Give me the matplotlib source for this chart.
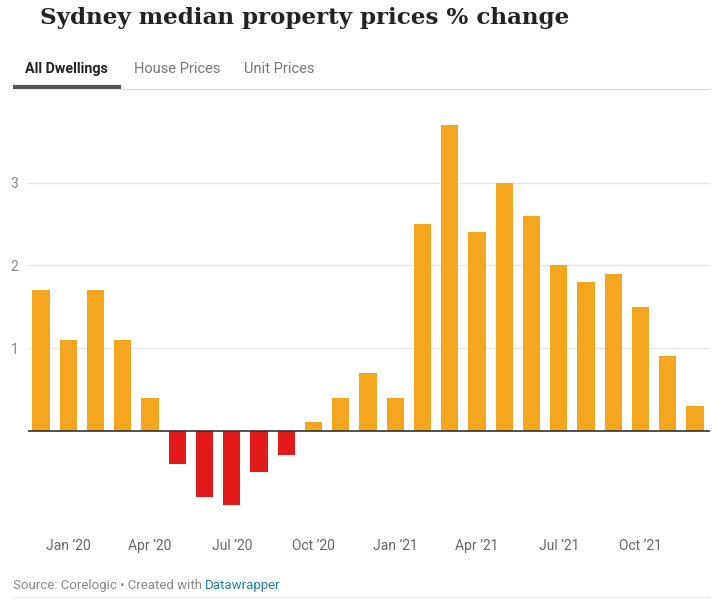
import matplotlib.pyplot as plt
from matplotlib.lines import Line2D

# Monthly % change, Dec 2019 .. Dec 2021
months = ["Dec '19", "Jan '20", "Feb '20", "Mar '20", "Apr '20", "May '20", "Jun '20",
          "Jul '20", "Aug '20", "Sep '20", "Oct '20", "Nov '20", "Dec '20", "Jan '21",
          "Feb '21", "Mar '21", "Apr '21", "May '21", "Jun '21", "Jul '21", "Aug '21",
          "Sep '21", "Oct '21", "Nov '21", "Dec '21"]
change = [1.7, 1.1, 1.7, 1.1, 0.4, -0.4, -0.8, -0.9, -0.5, -0.3, 0.1, 0.4, 0.7, 0.4,
          2.5, 3.7, 2.4, 3.0, 2.6, 2.0, 1.8, 1.9, 1.5, 0.9, 0.3]
tick_idx = [1, 4, 7, 10, 13, 16, 19, 22]
tick_labels = ["Jan \u201920", "Apr \u201920", "Jul \u201920", "Oct \u201920",
               "Jan \u201921", "Apr \u201921", "Jul \u201921", "Oct \u201921"]
y_ticks = [1, 2, 3]

POS = "#F4A71E"
NEG = "#E31A1C"
plt.rcParams['font.family'] = ['Roboto', 'DejaVu Sans']

fig = plt.figure(figsize=(7.27, 6.12), dpi=100)
ax = fig.add_axes([28 / 727, 1 - 515 / 612, 682 / 727, 415 / 612])

x = list(range(len(change)))
colors = [POS if v >= 0 else NEG for v in change]
ax.bar(x, change, width=0.63, color=colors, zorder=2)

ax.set_xlim(-0.48, 24.55)
ax.set_ylim(-1.02, 4.0)
for yv in y_ticks:
    ax.axhline(yv, color="#e6e6e6", lw=1, zorder=1)
ax.axhline(0, color="#333333", lw=1.2, zorder=3)

ax.set_yticks(y_ticks)
ax.set_yticklabels([str(v) for v in y_ticks], color="#888888", fontsize=10)
ax.tick_params(axis="y", length=0, pad=7)
ax.set_xticks(tick_idx)
ax.set_xticklabels(tick_labels, color="#666666", fontsize=10)
ax.tick_params(axis="x", length=0, pad=17)
for s in ax.spines.values():
    s.set_visible(False)

# title
fig.text(40 / 727, 1 - 18 / 612, "Sydney median property prices % change",
         family="DejaVu Serif", weight="bold", fontsize=16.6, color="#222222",
         va="center", ha="left")

# tabs
fig.text(25 / 727, 1 - 69 / 612, "All Dwellings", weight="bold", fontsize=10.3,
         color="#222222", va="center")
fig.text(134 / 727, 1 - 69 / 612, "House Prices", fontsize=10.5, color="#777777", va="center")
fig.text(244 / 727, 1 - 69 / 612, "Unit Prices", fontsize=10.5, color="#777777", va="center")
fig.add_artist(Line2D([121 / 727, 710 / 727], [1 - 88.5 / 612] * 2, color="#dddddd", lw=1))
fig.add_artist(Line2D([13 / 727, 121 / 727], [1 - 87 / 612] * 2, color="#555555", lw=3,
                      solid_capstyle="butt"))

# footer
src = fig.text(13 / 727, 1 - 585 / 612, "Source: Corelogic \u2022 Created with ",
               fontsize=9.5, color="#888888", va="center")
fig.canvas.draw()
bb = src.get_window_extent()
fig.text(bb.x1 / fig.bbox.width, 1 - 585 / 612, "Datawrapper", fontsize=9.5,
         color="#1D81A2", va="center")
fig.add_artist(Line2D([13 / 727, 710 / 727], [1 - 597 / 612] * 2, color="#eeeeee", lw=1))

fig.savefig("out.png", dpi=100, facecolor="white")
